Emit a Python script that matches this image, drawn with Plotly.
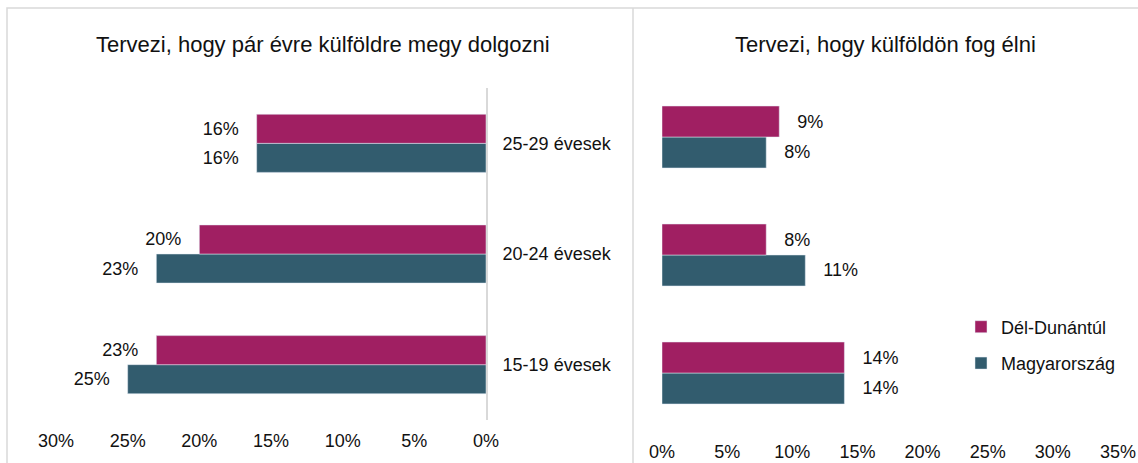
import plotly.graph_objects as go

W, H = 1138, 463

categories = ["15-19 évesek", "20-24 évesek", "25-29 évesek"]
series_names = ["Dél-Dunántúl", "Magyarország"]
work_del_dunantul = [23, 20, 16]
work_magyarorszag = [25, 23, 16]
live_del_dunantul = [14, 8, 9]
live_magyarorszag = [14, 11, 8]
left_ticks = [0, 5, 10, 15, 20, 25, 30]
right_ticks = [0, 5, 10, 15, 20, 25, 30, 35]
titles = ["Tervezi, hogy pár évre külföldre megy dolgozni", "Tervezi, hogy külföldön fog élni"]

MAGENTA = "#A01F62"
TEAL = "#325C6E"
TXT = "#111111"
FONT = "Liberation Sans, Arial, sans-serif"
NB = "\u00a0\u00a0\u00a0"
FS = 18

def px(x):
    return x / W

def py(y):
    return 1 - y / H

def lab_left(vals):
    return [f"{v}%" + NB for v in vals]

def lab_right(vals):
    return [NB + f"{v}%" for v in vals]

fig = go.Figure()

label_font = dict(size=FS, color=TXT, family=FONT)

# left panel (teal first -> drawn below within each group)
fig.add_trace(go.Bar(y=categories, x=work_magyarorszag, orientation="h", name=series_names[1],
                     marker_color=TEAL, text=lab_left(work_magyarorszag), textposition="outside",
                     textfont=label_font, cliponaxis=False, hoverinfo="x+y",
                     xaxis="x", yaxis="y", legendgroup="b", legendrank=2))
fig.add_trace(go.Bar(y=categories, x=work_del_dunantul, orientation="h", name=series_names[0],
                     marker_color=MAGENTA, text=lab_left(work_del_dunantul), textposition="outside",
                     textfont=label_font, cliponaxis=False, hoverinfo="x+y",
                     xaxis="x", yaxis="y", legendgroup="a", legendrank=1))
# right panel
fig.add_trace(go.Bar(y=categories, x=live_magyarorszag, orientation="h", name=series_names[1],
                     marker_color=TEAL, text=lab_right(live_magyarorszag), textposition="outside",
                     textfont=label_font, cliponaxis=False, hoverinfo="x+y",
                     xaxis="x2", yaxis="y2", legendgroup="b", showlegend=False))
fig.add_trace(go.Bar(y=categories, x=live_del_dunantul, orientation="h", name=series_names[0],
                     marker_color=MAGENTA, text=lab_right(live_del_dunantul), textposition="outside",
                     textfont=label_font, cliponaxis=False, hoverinfo="x+y",
                     xaxis="x2", yaxis="y2", legendgroup="a", showlegend=False))

axis_font = dict(size=FS, color=TXT, family=FONT)

fig.update_layout(
    width=W, height=H,
    margin=dict(l=0, r=0, t=0, b=0, pad=0),
    paper_bgcolor="white", plot_bgcolor="white",
    font=dict(family=FONT, size=FS, color=TXT),
    barmode="group", bargap=0.475, bargroupgap=0,
    xaxis=dict(domain=[px(56), px(486)], range=[30, 0], tickmode="array", tickvals=left_ticks,
               ticktext=[f"{t}%" for t in left_ticks],
               showgrid=False, zeroline=False, showline=False, ticks="",
               ticklabelstandoff=8, tickfont=axis_font, anchor="y", automargin=False),
    yaxis=dict(domain=[py(420), py(88)], side="right", showgrid=False, zeroline=False,
               showline=True, linecolor="#d9d9d9", linewidth=2, ticks="",
               ticklabelstandoff=11, tickfont=axis_font, anchor="x", automargin=False,
               categoryorder="array", categoryarray=categories),
    xaxis2=dict(domain=[px(662), px(1118)], range=[0, 35], tickmode="array", tickvals=right_ticks,
                ticktext=[f"{t}%" for t in right_ticks],
                showgrid=False, zeroline=False, showline=False, ticks="",
                ticklabelstandoff=7, tickfont=axis_font, anchor="y2", automargin=False),
    yaxis2=dict(domain=[py(432), py(78)], showgrid=False, zeroline=False, showline=False,
                showticklabels=False, ticks="", anchor="x2", automargin=False,
                categoryorder="array", categoryarray=categories),
    legend=dict(x=px(961), y=py(345), xanchor="left", yanchor="middle",
                font=dict(size=FS, color=TXT, family=FONT),
                tracegroupgap=10, bgcolor="rgba(0,0,0,0)", itemwidth=30),
    showlegend=True,
)

fig.add_annotation(x=px(323), y=py(44), xref="paper", yref="paper", text=titles[0],
                   showarrow=False, font=dict(size=22, color=TXT, family=FONT),
                   xanchor="center", yanchor="middle")
fig.add_annotation(x=px(885), y=py(44), xref="paper", yref="paper", text=titles[1],
                   showarrow=False, font=dict(size=22, color=TXT, family=FONT),
                   xanchor="center", yanchor="middle")

# outer frame and divider
fig.add_shape(type="rect", xref="paper", yref="paper", x0=px(7), x1=1.02, y0=-0.05, y1=py(8),
              line=dict(color="#d9d9d9", width=1.5), layer="below")
fig.add_shape(type="line", xref="paper", yref="paper", x0=px(633), x1=px(633), y0=-0.05, y1=py(8),
              line=dict(color="#d9d9d9", width=1.5), layer="below")

fig.write_html("out.html", config={"displayModeBar": False},
               post_script="document.body.style.margin='0';document.body.style.overflow='hidden';")
